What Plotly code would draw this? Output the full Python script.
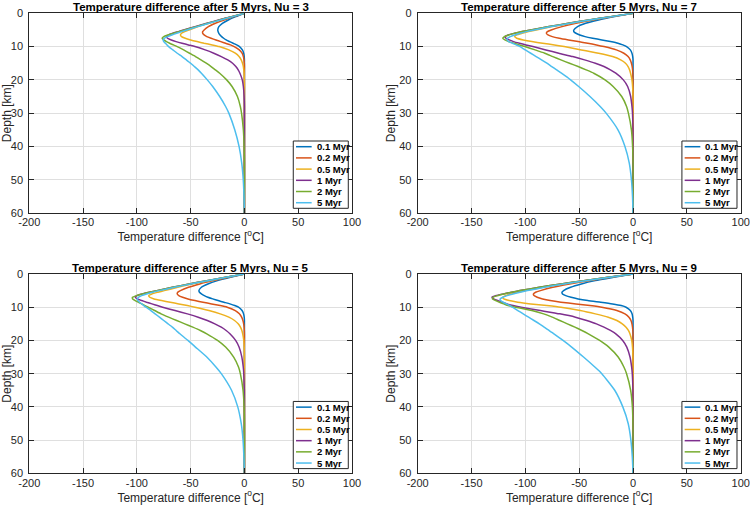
import plotly.graph_objects as go

# ---------------- data ----------------
DEPTH = [0, 1, 2, 3, 4, 5, 5.5, 6, 6.5, 7, 7.5, 8, 8.5, 9, 9.5, 10, 11, 12, 13, 14,
         15, 16, 17, 18, 20, 22, 25, 28, 30, 35, 40, 45, 50, 55, 60]

SERIES = ["0.1 Myr", "0.2 Myr", "0.5 Myr", "1 Myr", "2 Myr", "5 Myr"]
COLORS = ["#0072BD", "#D95319", "#EDB120", "#7E2F8E", "#77AC30", "#4DBEEE"]

NU_VALUES = [3, 7, 5, 9]  # top-left, top-right, bottom-left, bottom-right

X_TICKS = [-200, -150, -100, -50, 0, 50, 100]
X_TICK_LABELS = ["-200", "-150", "-100", "-50", "0", "50", "100"]
Y_TICKS = [0, 10, 20, 30, 40, 50, 60]
Y_TICK_LABELS = ["0", "10", "20", "30", "40", "50", "60"]

# Nu = 3
NU3_01 = [0, -8, -15, -20.5, -23.8, -24.8, -24.5, -23.8, -22.7, -21.2, -19.3, -17, -13.8, -10.5, -7.3, -4.6, -1.9, -0.7, -0.2, 0,
          0, 0, 0, 0, 0, 0, 0, 0, 0, 0, 0, 0, 0, 0, 0]
NU3_02 = [0, -10, -19, -27, -33.5, -37.5, -38.8, -38.8, -37.5, -35, -31, -26.5, -22, -17.5, -13, -9.5, -4.8, -2.2, -1, -0.4,
          -0.1, 0, 0, 0, 0, 0, 0, 0, 0, 0, 0, 0, 0, 0, 0]
NU3_05 = [0, -12, -23, -33, -43, -51.5, -55.5, -58.5, -59.5, -58.5, -55, -50, -44, -37.5, -30, -23.5, -14.5, -8.5, -5, -3,
          -1.8, -1, -0.6, -0.3, -0.1, 0, 0, 0, 0, 0, 0, 0, 0, 0, 0]
NU3_1 = [0, -12, -24, -35, -46, -56.5, -61.5, -66.5, -70.5, -72.5, -71.5, -68, -63.5, -58, -52, -46, -36.5, -28.5, -21.5, -15.5,
         -11, -8, -5.8, -4.2, -2, -1, -0.3, 0, 0, 0, 0, 0, 0, 0, 0]
NU3_2 = [0, -11.5, -23, -34, -45, -55.5, -61, -66, -71, -75, -76.5, -75, -72.5, -69.5, -66, -62.5, -56.5, -51, -45.5, -40.5,
         -35.5, -31, -27, -23, -16.5, -11.5, -6.5, -3.8, -2.7, -1, -0.3, 0, 0, 0, 0]
NU3_5 = [0, -11, -22, -33, -43.5, -53.5, -58.5, -63, -67.5, -71.5, -74.5, -75.5, -75, -73.5, -72, -70.5, -66.5, -62.5, -58, -54,
         -50, -46.5, -43, -40, -34.5, -29.5, -23, -17.5, -14.5, -9, -5, -2.5, -1.1, -0.4, 0]

# Nu = 7
NU7_01 = [0, -17, -32, -44, -51.5, -55, -55, -53, -49.5, -44.5, -37.5, -29, -21, -14, -9.5, -6, -2.5, -1, -0.3, 0,
          0, 0, 0, 0, 0, 0, 0, 0, 0, 0, 0, 0, 0, 0, 0]
NU7_02 = [0, -19, -37, -53, -66, -76, -79.5, -80.5, -79, -75, -68.5, -60, -51, -42, -34, -27, -15.5, -8.5, -4.6, -2.6,
          -1.5, -0.8, -0.4, -0.2, 0, 0, 0, 0, 0, 0, 0, 0, 0, 0, 0]
NU7_05 = [0, -20, -40, -58, -75, -90, -97, -103, -108, -110, -108, -102, -94, -84, -73, -64, -48, -32, -19, -11.5,
          -7, -4.6, -3.2, -2.3, -1, -0.4, 0, 0, 0, 0, 0, 0, 0, 0, 0]
NU7_1 = [0, -21, -41, -60, -78, -95, -103, -110, -116, -119, -118, -115, -111, -105.5, -99.5, -93, -81, -69, -56, -45,
         -35, -27, -21, -16, -9, -5, -2.2, -1, -0.5, 0, 0, 0, 0, 0, 0]
NU7_2 = [0, -21, -41, -60, -78, -95, -103, -110, -115.5, -119.5, -121, -119, -115.5, -110.5, -105.5, -100.5, -91, -82, -74.5, -67,
         -59, -51, -43.5, -36.5, -26, -18.5, -10.5, -6, -4.3, -1.5, -0.4, 0, 0, 0, 0]
NU7_5 = [0, -20, -40, -58, -76, -92, -99, -105, -110, -114, -116.5, -117, -115.5, -112, -108.5, -105, -100, -95, -90, -85,
         -80, -75.5, -71, -66.5, -58, -50.5, -40, -30.5, -25, -14, -7.5, -3.5, -1.5, -0.5, 0]

# Nu = 5
NU5_01 = [0, -13, -25, -34, -40, -42.3, -41.8, -40, -37.3, -34, -29.5, -24.5, -19, -13.5, -9, -5.5, -2.2, -0.8, -0.2, 0,
          0, 0, 0, 0, 0, 0, 0, 0, 0, 0, 0, 0, 0, 0, 0]
NU5_02 = [0, -15, -29, -41.5, -52, -59.5, -62, -62.5, -61, -57.5, -52.5, -46, -38.5, -30.5, -22.5, -16, -8.5, -4.7, -2.6, -1.4,
          -0.7, -0.3, -0.1, 0, 0, 0, 0, 0, 0, 0, 0, 0, 0, 0, 0]
NU5_05 = [0, -17, -33, -48.5, -62, -74.5, -80.5, -86, -89, -88, -84, -77, -69, -61, -53, -46, -33, -22.5, -14.5, -9.2,
          -5.8, -3.7, -2.4, -1.6, -0.6, -0.2, 0, 0, 0, 0, 0, 0, 0, 0, 0]
NU5_1 = [0, -17.5, -35, -51.5, -67, -81.5, -88.5, -95, -100, -101.5, -99.5, -95.5, -91, -86, -81, -76, -64.5, -53, -43, -34.5,
         -27.5, -21.5, -17, -13.5, -8.2, -5, -2.4, -1.1, -0.6, -0.1, 0, 0, 0, 0, 0]
NU5_2 = [0, -17.5, -35, -51.5, -67, -81.5, -88.5, -95, -100.5, -104, -104, -101.5, -98.5, -95.5, -92.5, -89.5, -83.5, -77.5, -70.5, -63,
         -55.5, -48, -41, -35, -25, -17.5, -10, -5.5, -3.8, -1.3, -0.3, 0, 0, 0, 0]
NU5_5 = [0, -17, -34, -50, -65, -79, -85.5, -91, -95.5, -98.5, -99.5, -99, -97.5, -95.5, -93.5, -91.5, -87, -83, -79, -75,
         -71, -67, -63.5, -60, -52.5, -45.5, -35, -26.5, -21.5, -12, -6.2, -3, -1.3, -0.5, 0]

# Nu = 9
NU9_01 = [0, -18, -35, -48, -58, -64.5, -66, -65.5, -62.5, -57.5, -51, -42, -30, -19, -11, -6.5, -2.5, -0.9, -0.3, 0,
          0, 0, 0, 0, 0, 0, 0, 0, 0, 0, 0, 0, 0, 0, 0]
NU9_02 = [0, -21, -41, -59, -74.5, -86, -90.5, -92.5, -92, -89, -84, -77, -67, -53, -40, -29, -15, -7.5, -3.8, -1.9,
          -1, -0.5, -0.2, 0, 0, 0, 0, 0, 0, 0, 0, 0, 0, 0, 0]
NU9_05 = [0, -23, -45, -65, -84, -100, -107.5, -114, -118.5, -121, -120, -115, -107, -95, -80, -67, -49, -35, -23, -15,
          -10, -6.5, -4.3, -2.9, -1.2, -0.5, -0.1, 0, 0, 0, 0, 0, 0, 0, 0]
NU9_1 = [0, -23, -46, -67, -87, -105, -113, -120.5, -127, -131, -129.5, -125.5, -121.5, -117, -111.5, -104, -86, -68, -53.5, -43,
         -34, -27, -21, -16, -9.6, -5.8, -2.8, -1.3, -0.7, -0.1, 0, 0, 0, 0, 0]
NU9_2 = [0, -23, -46, -67, -87, -105, -113, -120, -126, -130, -130.5, -127.5, -124, -120, -116, -109, -94, -83, -75, -68,
         -61, -54, -47.5, -41.5, -31, -22.5, -13.8, -8.5, -6, -2.2, -0.6, -0.1, 0, 0, 0]
NU9_5 = [0, -22, -44, -64, -82, -98, -105, -111.5, -117, -121, -123.5, -123, -120.5, -117.5, -114.5, -112, -107, -102, -97, -92,
         -87, -82.5, -78, -73.5, -65, -57, -46, -35.5, -29, -17, -9.5, -4.5, -2, -0.7, 0]

PANEL_SERIES = [
    [NU3_01, NU3_02, NU3_05, NU3_1, NU3_2, NU3_5],
    [NU7_01, NU7_02, NU7_05, NU7_1, NU7_2, NU7_5],
    [NU5_01, NU5_02, NU5_05, NU5_1, NU5_2, NU5_5],
    [NU9_01, NU9_02, NU9_05, NU9_1, NU9_2, NU9_5],
]

# ---------------- layout ----------------
FONT = "Liberation Sans, Arial, Helvetica, sans-serif"
INK = "#262626"
GRID = "#dfdfdf"

X_DOMAINS = [[29.3 / 750, 352 / 750], [417.7 / 750, 740.7 / 750]]
Y_DOMAINS = [[1 - 213 / 509, 1 - 13.3 / 509], [1 - 473.3 / 509, 1 - 274 / 509]]

fig = go.Figure()
shapes = []
annotations = []

for p, series in enumerate(PANEL_SERIES):
    row, col = divmod(p, 2)
    suffix = "" if p == 0 else str(p + 1)
    xa, ya = "x" + suffix, "y" + suffix

    for name, color, vals in zip(SERIES, COLORS, series):
        fig.add_trace(go.Scatter(
            x=vals, y=DEPTH, mode="lines", name=name,
            line=dict(color=color, width=1.5, shape="spline", smoothing=0.5),
            xaxis=xa, yaxis=ya, showlegend=False, hoverinfo="skip"))

    axis_common = dict(showline=True, linecolor=INK, linewidth=1, mirror="ticks",
                       ticks="inside", ticklen=5, tickwidth=1, tickcolor=INK,
                       showgrid=True, gridcolor=GRID, gridwidth=1, zeroline=False,
                       tickfont=dict(family=FONT, size=11, color=INK),
                       ticklabeloverflow="allow", automargin=False)
    fig.layout["xaxis" + suffix] = dict(
        axis_common, domain=X_DOMAINS[col], anchor=ya, range=[-200, 100],
        tickvals=X_TICKS, ticktext=X_TICK_LABELS, ticklabelstandoff=-1,
        title=dict(text="Temperature difference [<sup>o</sup>C]", standoff=3,
                   font=dict(family=FONT, size=12, color=INK)))
    fig.layout["yaxis" + suffix] = dict(
        axis_common, domain=Y_DOMAINS[row], anchor=xa, range=[60, 0],
        tickvals=Y_TICKS, ticktext=Y_TICK_LABELS, ticklabelstandoff=3,
        title=dict(text="Depth [km]", standoff=1,
                   font=dict(family=FONT, size=12, color=INK)))

    # panel title
    annotations.append(dict(
        xref=xa + " domain", yref=ya + " domain", x=0.5, y=1, xanchor="center",
        yanchor="bottom", yshift=-1.5, showarrow=False,
        text=f"<b>Temperature difference after 5 Myrs, Nu = {NU_VALUES[p]}</b>",
        font=dict(family=FONT, size=11.5, color="black")))

    # legend box (MATLAB style, compact)
    shapes.append(dict(type="rect", xref=xa + " domain", yref=ya + " domain",
                       x0=0.818, x1=0.9885, y0=0.0235, y1=0.3605,
                       line=dict(color=INK, width=1), fillcolor="white", layer="above"))
    for i, (name, color) in enumerate(zip(SERIES, COLORS)):
        yc = 0.332 - i * 0.0561
        shapes.append(dict(type="line", xref=xa + " domain", yref=ya + " domain",
                           x0=0.8265, x1=0.875, y0=yc, y1=yc,
                           line=dict(color=color, width=1.5), layer="above"))
        annotations.append(dict(
            xref=xa + " domain", yref=ya + " domain", x=0.8844, y=yc,
            xanchor="left", yanchor="middle", showarrow=False,
            text=f"<b>{name}</b>", font=dict(family=FONT, size=9.5, color="black")))

fig.update_layout(
    width=750, height=509,
    margin=dict(l=0, r=0, t=0, b=0),
    paper_bgcolor="white", plot_bgcolor="white",
    font=dict(family=FONT, color=INK),
    shapes=shapes, annotations=annotations,
    showlegend=False,
)

fig.write_html(
    "out.html",
    config={"displayModeBar": False},
    post_script="document.body.style.margin='0';document.body.style.padding='0';"
                "document.documentElement.style.overflow='hidden';",
)
